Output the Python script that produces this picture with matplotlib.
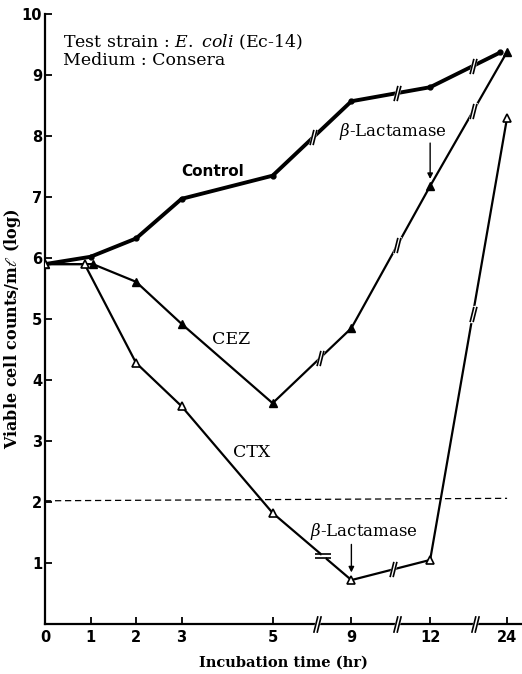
import numpy as np
import matplotlib
matplotlib.use('Agg')
import matplotlib.pyplot as plt
from matplotlib.path import Path

plt.rcParams['font.family'] = 'DejaVu Serif'
plt.rcParams['mathtext.fontset'] = 'dejavuserif'

# Данные (часы, log КОЕ/мл)
hours = [0, 1, 2, 3, 5, 9, 12, 24]
control = [5.9, 6.02, 6.32, 6.97, 7.35, 8.57, 8.8, 9.37]
cez = [5.9, 5.9, 5.61, 4.92, 3.62, 4.85, 7.18, 9.38]
ctx = [5.9, 5.9, 4.28, 3.57, 1.82, 0.72, 1.05, 8.3]
limit = 2.02

tick_hours = [0, 1, 2, 3, 5, 9, 12, 24]
tick_labels = ['0', '1', '2', '3', '5', '9', '12', '24']
y_ticks = [1, 2, 3, 4, 5, 6, 7, 8, 9, 10]

# Разрывная шкала: положение каждого часа на оси
tick_pos = [0, 1, 2, 3, 5, 6.73, 8.46, 10.15]
break_pos = [5.98, 7.74, 9.45]


def to_pos(h):
    return np.interp(h, tick_hours, tick_pos)


# Маркеры разрыва "//"
slash = Path([(-0.45, -1), (0.05, 1), (-0.05, -1), (0.45, 1)],
             [Path.MOVETO, Path.LINETO, Path.MOVETO, Path.LINETO])
gap = Path([(-0.45, -1), (0.05, 1), (0.45, 1), (-0.05, -1), (-0.45, -1)],
           [Path.MOVETO, Path.LINETO, Path.LINETO, Path.LINETO, Path.CLOSEPOLY])
dash2 = Path([(-1, -0.2), (1, -0.2), (-1, 0.2), (1, 0.2)],
             [Path.MOVETO, Path.LINETO, Path.MOVETO, Path.LINETO])


def breaks(ax, x, y, marker=slash, size=11, clip=True):
    ax.plot(x, y, ls='none', marker=gap, ms=size, mfc='white', mec='white',
            mew=1.5, zorder=5, clip_on=clip)
    ax.plot(x, y, ls='none', marker=marker, ms=size, mec='black', mew=1.2,
            zorder=6, clip_on=clip)


fig = plt.figure(figsize=(5.22, 6.74), dpi=100)
ax = fig.add_axes([0.0862, 0.0742, 0.914, 0.905])

# смещения точек на рисунке (чтобы точки не перекрывались)
nudge_ctx = {1: -0.13}
nudge_cez = {1: 0.05}
nudge_ctl = {24: -0.15}

xc = [to_pos(h) + nudge_ctl.get(h, 0) for h in hours]
xz = [to_pos(h) + nudge_cez.get(h, 0) for h in hours]
xt = [to_pos(h) + nudge_ctx.get(h, 0) for h in hours]

ax.plot(xc, control, color='black', lw=2.8, marker='o', ms=3.5, zorder=3)
ax.plot(xz, cez, color='black', lw=1.6, marker='^', ms=5.5, zorder=3)
ax.plot(xt, ctx, color='black', lw=1.6, marker='^', ms=5.5, mfc='white',
        mew=1.2, zorder=3)
ax.plot([0, to_pos(24)], [limit, limit + 0.04], color='black', lw=0.9,
        ls=(0, (5, 3)), zorder=2)

# разрывы на линиях
for xs, ys, bx, marks in [(xc, control, [5.89, 7.74, 9.4], [slash] * 3),
                          (xz, cez, [6.05, 7.74, 9.4], [slash] * 3),
                          (xt, ctx, [6.1, 7.65, 9.4], [dash2, slash, slash])]:
    by = np.interp(bx, xs, ys)
    for i in range(3):
        breaks(ax, [bx[i]], [by[i]], marker=marks[i])

ax.set_xlim(0, 10.48)
ax.set_ylim(0, 10)
ax.spines['top'].set_visible(False)
ax.spines['right'].set_visible(False)
ax.spines['left'].set_linewidth(1.6)
ax.spines['bottom'].set_linewidth(1.6)

breaks(ax, break_pos, [0] * 3, size=12, clip=False)

ax.set_xticks(tick_pos)
ax.set_xticklabels(tick_labels)
ax.set_yticks(y_ticks)
ax.tick_params(direction='in', length=5, width=1.3, labelsize=10.5, pad=4)
ax.tick_params(axis='y', pad=2)
for lab in ax.get_xticklabels() + ax.get_yticklabels():
    lab.set_family('DejaVu Sans')
    lab.set_fontweight('bold')

ax.set_xlabel('Incubation time (hr)', fontsize=10.5, fontweight='bold',
              labelpad=8)
ax.set_ylabel('Viable cell counts/m$\\ell$ (log)', fontsize=11.5,
              fontweight='bold')
ax.yaxis.set_label_coords(-0.046, 0.485)

ax.text(0.4, 9.46, 'Test strain : $\\it{E.\\ coli}$ (Ec-14)', fontsize=12.5)
ax.text(0.4, 9.16, 'Medium : Consera', fontsize=12.5)

ax.text(3.0, 7.35, 'Control', fontsize=11, fontweight='bold',
        family='DejaVu Sans')
ax.text(3.67, 4.59, 'CEZ', fontsize=12.5)
ax.text(4.13, 2.74, 'CTX', fontsize=12.5)

ax.text(7.65, 8.0, '$\\beta$-Lactamase', fontsize=12, ha='center')
ax.annotate('', xy=(to_pos(12), 7.25), xytext=(to_pos(12), 7.93),
            arrowprops=dict(arrowstyle='-|>', color='black', lw=1.0,
                            mutation_scale=8))
ax.text(7.0, 1.45, '$\\beta$-Lactamase', fontsize=12, ha='center')
ax.annotate('', xy=(to_pos(9), 0.8), xytext=(to_pos(9), 1.35),
            arrowprops=dict(arrowstyle='-|>', color='black', lw=1.0,
                            mutation_scale=8))

fig.savefig('out.png', dpi=100)
